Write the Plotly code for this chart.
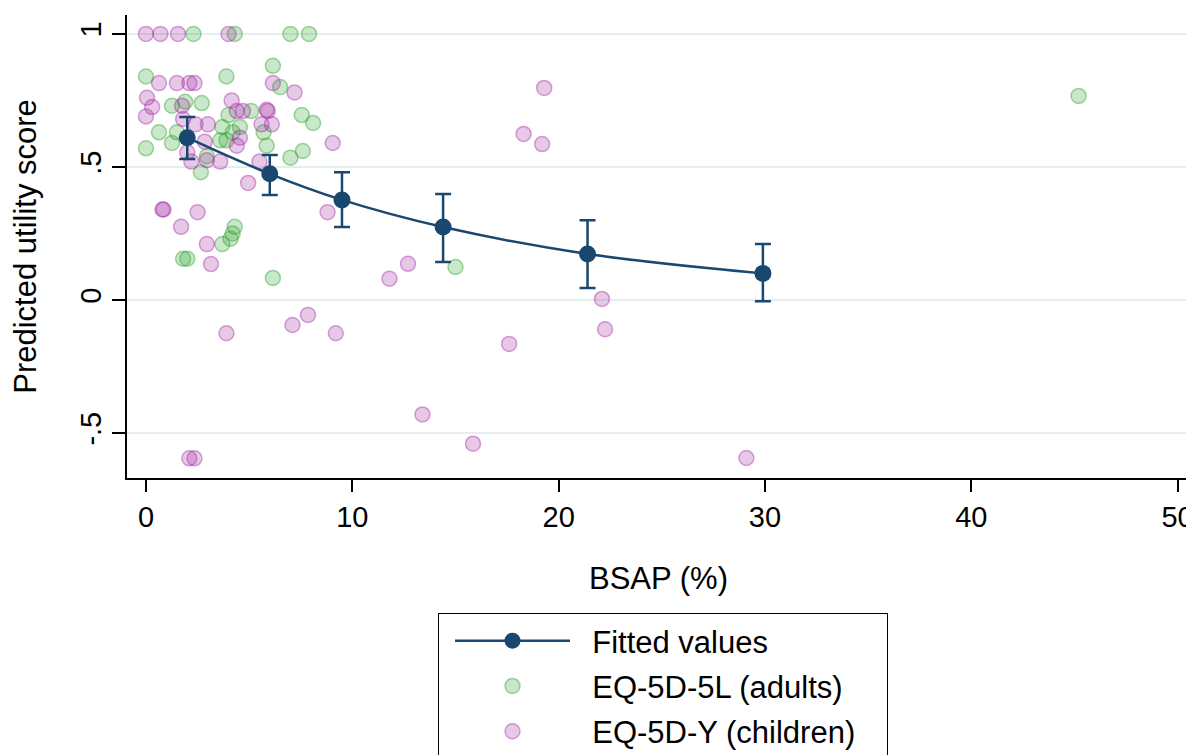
import plotly.graph_objects as go

# Fitted values with 95% CI
fit_x = [2, 6, 9.5, 14.4, 21.4, 29.9]
fit_y = [0.61, 0.474, 0.376, 0.274, 0.173, 0.10]
fit_hi = [0.688, 0.545, 0.48, 0.398, 0.30, 0.21]
fit_lo = [0.53, 0.395, 0.274, 0.143, 0.045, -0.005]

# EQ-5D-5L (adults)
adult_x = [2.3, 4.3, 7.0, 7.9, 6.15, 0, 3.9, 6.5, 1.26, 1.9, 2.7, 5.1, 7.55, 8.1, 4.0,
           0.63, 1.5, 1.26, 0, 2.95, 2.66, 3.6, 3.9, 4.2, 3.7, 4.55, 5.85, 5.7, 7.6, 7.0,
           4.3, 4.2, 4.1, 3.7, 1.8, 2.0, 6.15, 15.0, 45.2]
adult_y = [1.0, 1.0, 1.0, 1.0, 0.88, 0.84, 0.84, 0.80, 0.73, 0.745, 0.74, 0.71, 0.695, 0.665, 0.695,
           0.63, 0.63, 0.59, 0.57, 0.54, 0.48, 0.60, 0.60, 0.63, 0.65, 0.65, 0.58, 0.63, 0.56, 0.535,
           0.275, 0.25, 0.23, 0.21, 0.155, 0.155, 0.083, 0.124, 0.767]

# EQ-5D-Y (children)
child_x = [0, 0.7, 1.55, 4.0,
           0.63, 1.5, 2.1, 2.35, 6.15, 7.2, 0.05, 0.3, 0, 1.75, 1.8, 2.4, 3.0, 4.15, 4.4, 4.7,
           5.85, 5.9, 5.6, 6.1, 4.55, 4.4, 2.85, 2.0, 2.2, 2.95, 3.6, 5.5, 4.95, 9.05,
           0.8, 0.85, 2.5, 1.7, 2.95, 3.15, 8.8,
           3.9, 7.1, 7.85, 9.2, 11.8, 12.7, 13.4, 15.85, 17.6, 18.3, 19.2, 19.3, 22.1, 22.25,
           29.1, 2.1, 2.35]
child_y = [1.0, 1.0, 1.0, 1.0,
           0.815, 0.815, 0.815, 0.815, 0.815, 0.78, 0.76, 0.725, 0.69, 0.73, 0.68, 0.66, 0.66, 0.75, 0.71, 0.71,
           0.715, 0.71, 0.66, 0.66, 0.61, 0.58, 0.595, 0.555, 0.52, 0.525, 0.52, 0.52, 0.44, 0.59,
           0.34, 0.34, 0.33, 0.275, 0.21, 0.135, 0.33,
           -0.125, -0.094, -0.056, -0.125, 0.08, 0.136, -0.43, -0.54, -0.165, 0.624, 0.586, 0.797, 0.004, -0.11,
           -0.594, -0.595, -0.595]

x_ticks = [0, 10, 20, 30, 40, 50]
y_ticks = [-0.5, 0, 0.5, 1]
y_ticktext = ["-.5", "0", ".5", "1"]

NAVY = "#1a476f"
FONT = "Arial, Liberation Sans, sans-serif"

# page body has an 8px default margin, so the figure is offset by 8px
W, H = 1186, 747
ML, MR, MT = 119, 4, 7
PW = W - ML - MR
PLOT_BOTTOM = 470
MB = H - PLOT_BOTTOM
PH = PLOT_BOTTOM - MT

fig = go.Figure()

fig.add_trace(go.Scatter(
    x=adult_x, y=adult_y, mode="markers", name="  EQ-5D-5L (adults)",
    marker=dict(size=15, color="rgba(40,160,40,0.25)",
                line=dict(color="rgba(40,160,40,0.42)", width=1.5)),
    legendrank=2, legendgroup="b"))

fig.add_trace(go.Scatter(
    x=child_x, y=child_y, mode="markers", name="  EQ-5D-Y (children)   ",
    marker=dict(size=15, color="rgba(160,40,160,0.25)",
                line=dict(color="rgba(160,40,160,0.42)", width=1.5)),
    legendrank=3, legendgroup="c"))

fig.add_trace(go.Scatter(
    x=fit_x, y=fit_y, mode="lines+markers", name="  Fitted values",
    line=dict(color=NAVY, width=2.5, shape="spline"),
    marker=dict(size=17, color=NAVY),
    error_y=dict(type="data", symmetric=False,
                 array=[h - y for h, y in zip(fit_hi, fit_y)],
                 arrayminus=[y - l for y, l in zip(fit_y, fit_lo)],
                 color=NAVY, thickness=2.5, width=8),
    legendrank=1, legendgroup="a"))

fig.update_layout(
    width=W, height=H,
    paper_bgcolor="white", plot_bgcolor="white",
    margin=dict(l=ML, r=MR, t=MT, b=MB, autoexpand=False),
    font=dict(family=FONT, size=29, color="black"),
    showlegend=True,
    legend=dict(
        x=(438 - 8 - ML) / PW, y=(PLOT_BOTTOM - 605) / PH, xanchor="left", yanchor="top",
        bgcolor="white", bordercolor="black", borderwidth=1,
        font=dict(family=FONT, size=31, color="black"),
        itemwidth=115, indentation=11, traceorder="grouped", tracegroupgap=2,
    ),
    xaxis=dict(
        range=[-0.92, 50.6], tickvals=x_ticks, ticks="outside", ticklen=12,
        tickwidth=1.5, tickcolor="black", showline=True, linecolor="black", linewidth=1.5,
        showgrid=False, zeroline=False, tickfont=dict(size=29),
        title=dict(text="BSAP (%)", font=dict(size=31), standoff=36),
    ),
    yaxis=dict(
        range=[-0.669, 1.071], tickvals=y_ticks, ticktext=y_ticktext, tickangle=-90,
        ticks="outside", ticklen=13, tickwidth=1.5, tickcolor="black",
        showline=True, linecolor="black", linewidth=1.5,
        showgrid=True, gridcolor="#e4eeef", gridwidth=2, zeroline=False,
        tickfont=dict(size=29),
        title=dict(text="Predicted utility score", font=dict(size=31), standoff=30),
    ),
)

fig.write_html("out.html")
